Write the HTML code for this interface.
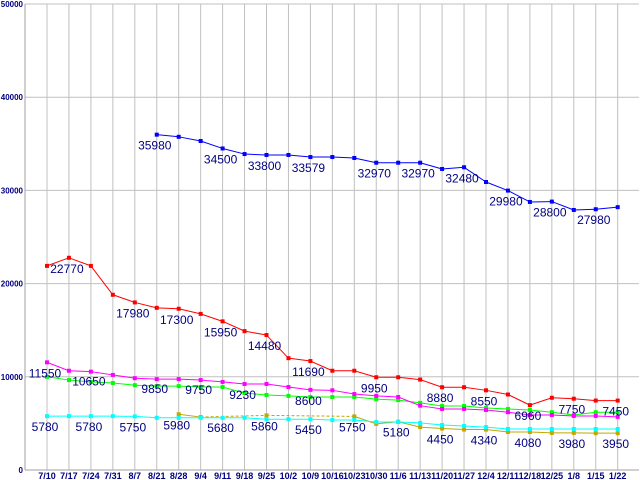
<!DOCTYPE html>
<html><head><meta charset="utf-8"><style>
html,body{margin:0;padding:0;background:#fff}
svg{display:block}
text{font-family:"Liberation Sans",sans-serif}
</style></head><body>
<svg id="chart" width="640" height="480" xmlns="http://www.w3.org/2000/svg"></svg>
<script>
const categories=["7/10","7/17","7/24","7/31","8/7","8/21","8/28","9/4","9/11","9/18","9/25","10/2","10/9","10/16","10/23","10/30","11/6","11/13","11/20","11/27","12/4","12/11","12/18","12/25","1/8","1/15","1/22"];
const yTicks=[0,10000,20000,30000,40000,50000];
const blueValues=[null,null,null,null,null,35980,35750,35300,34500,33900,33800,33800,33579,33580,33480,32970,32970,32970,32300,32480,30900,29980,28760,28800,27900,27980,28200];
const redValues=[21900,22770,21900,18800,17980,17400,17300,16750,15950,14900,14480,12000,11690,10650,10650,9950,9950,9700,8880,8880,8550,8100,6960,7750,7650,7450,7450];
const magentaValues=[11550,10650,10550,10200,9850,9750,9750,9650,9450,9230,9230,8900,8600,8550,8150,7950,7830,6900,6550,6550,6440,6200,5900,5900,5800,5800,5700];
const greenValues=[10000,9650,9450,9330,9100,9000,9000,8900,8900,8260,8050,7950,7830,7830,7830,7600,7500,7200,6870,6870,6650,6550,6440,6200,5900,6200,6200];
const cyanValues=[5780,5780,5780,5780,5750,5600,5600,5600,5600,5600,5450,5450,5450,5360,5360,5150,5150,5050,4830,4720,4600,4400,4400,4400,4400,4400,4400];
const yellowValues=[null,null,null,null,null,null,5980,5680,null,null,5860,null,null,null,5750,4950,5180,4600,4450,4340,4340,4080,4080,3980,3980,3950,3950];
const blueLabels=[[5,"35980"],[8,"34500"],[10,"33800"],[12,"33579"],[15,"32970"],[17,"32970"],[19,"32480"],[21,"29980"],[23,"28800"],[25,"27980"]];
const redLabels=[[1,"22770"],[4,"17980"],[6,"17300"],[8,"15950"],[10,"14480"],[12,"11690"],[15,"9950"],[18,"8880"],[20,"8550"],[22,"6960"],[24,"7750"],[26,"7450"]];
const midLabels=[[0,"11550"],[2,"10650"],[5,"9850"],[7,"9750"],[9,"9230"],[12,"8600"]];
const lowLabels=[[0,"5780"],[2,"5780"],[4,"5750"],[6,"5980"],[8,"5680"],[10,"5860"],[12,"5450"],[14,"5750"],[16,"5180"],[18,"4450"],[20,"4340"],[22,"4080"],[24,"3980"],[26,"3950"]];

const NS="http://www.w3.org/2000/svg";
const svg=document.getElementById("chart");
const X0=25,XR=639,YT=4,YB=470;
function xPos(i){return 47+i*21.95;}
function yPos(v){return YB-(v/50000)*(YB-YT);}
function mk(tag,attrs,parent){const e=document.createElementNS(NS,tag);for(const k in attrs)e.setAttribute(k,attrs[k]);(parent||svg).appendChild(e);return e;}

const grid=mk("g",{});


yTicks.forEach(t=>{
  const y=yPos(t);
  mk("line",{x1:X0,x2:XR,y1:y,y2:y,stroke:"#c0c0c0","stroke-width":1},grid);
  const tx=mk("text",{x:23,y:y+3,"text-anchor":"end","font-size":"8","font-weight":"bold",fill:"#000080"});
  tx.textContent=t;
  
  
});
categories.forEach((c,i)=>{
  const x=xPos(i);
  mk("line",{x1:x,x2:x,y1:YT,y2:YB,stroke:"#c0c0c0","stroke-width":1},grid);
  const tx=mk("text",{x:x,y:479,"text-anchor":"middle","font-size":"9","font-weight":"bold",fill:"#000080"});
  tx.textContent=c;
  
  
});
mk("line",{x1:X0,x2:X0,y1:YT,y2:YB,stroke:"#a0a0a0","stroke-width":1});
mk("line",{x1:X0,x2:XR,y1:YB,y2:YB,stroke:"#a0a0a0","stroke-width":1});

function series(vals,color,name){
  const g=mk("g",{});
  
  
  let prev=-1;
  vals.forEach((v,i)=>{
    if(v==null)return;
    if(prev>=0){
      const a={x1:xPos(prev),y1:yPos(vals[prev]),x2:xPos(i),y2:yPos(v),stroke:color,"stroke-width":1};
      if((i-prev)>1)a["stroke-dasharray"]="3,2";
      mk("line",a,g);
    }
    prev=i;
  });
  vals.forEach((v,i)=>{
    if(v==null)return;
    const r=mk("rect",{x:xPos(i)-2,y:yPos(v)-2,width:4,height:4,fill:color},g);
    
    
  });
}
series(yellowValues,"#c0a800","series-yellow");
series(cyanValues,"#00ffff","series-cyan");
series(greenValues,"#00ff00","series-green");
series(magentaValues,"#ff00ff","series-magenta");
series(redValues,"#ff0000","series-red");
series(blueValues,"#0000ff","series-blue");

function labels(list,vals){
  list.forEach(([i,txt])=>{
    let v=vals?vals[i]:null; if(v==null)v=Number(txt);
    const t=mk("text",{x:xPos(i)-2,y:yPos(v)+15,"text-anchor":"middle","font-size":"12",fill:"#000080"});
    t.textContent=txt;
    
    
  });
}
labels(blueLabels,blueValues);
labels(redLabels,redValues);
labels(midLabels,null);
labels(lowLabels,null);
</script>
</body></html>
